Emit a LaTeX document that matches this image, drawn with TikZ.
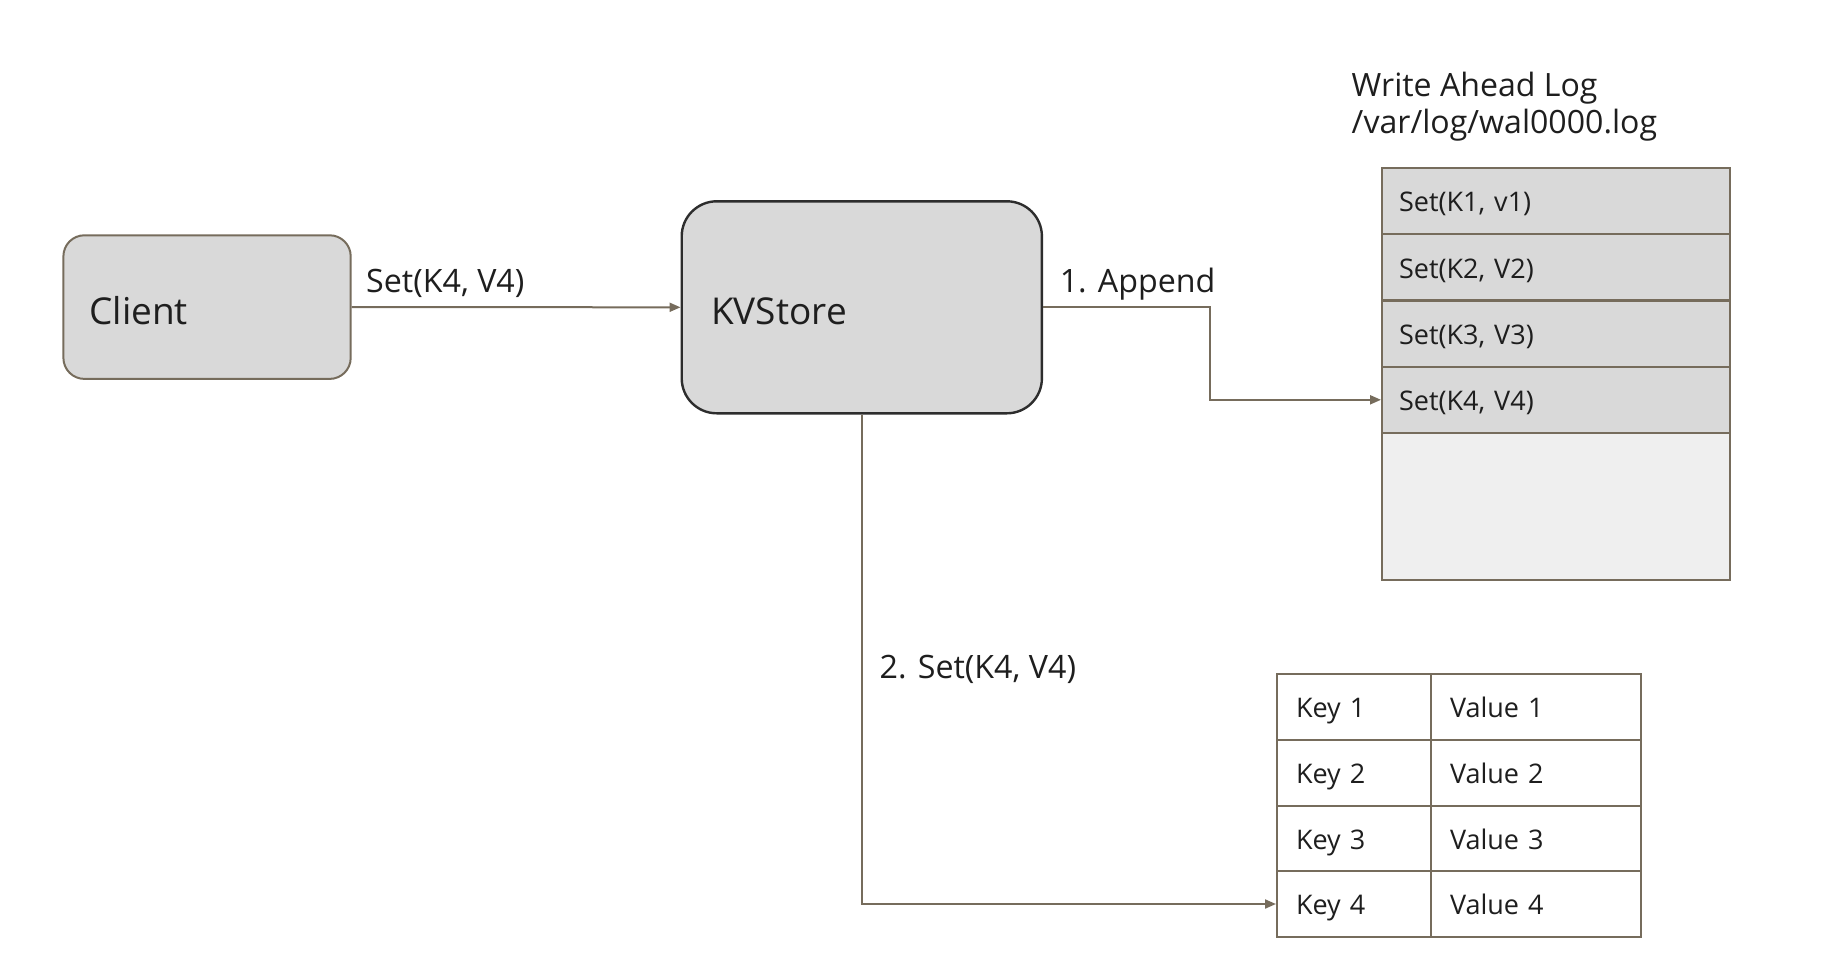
\documentclass[tikz,border=0pt]{standalone}
\usepackage{fontspec}
\setmainfont{Open Sans}
\usetikzlibrary{arrows.meta}
\definecolor{edgecol}{RGB}{118,108,92}
\definecolor{boxfill}{RGB}{217,217,217}
\definecolor{emptyfill}{RGB}{239,239,239}
\definecolor{txt}{RGB}{30,30,30}
\definecolor{darkedge}{RGB}{45,45,45}
\begin{document}
\begin{tikzpicture}[x=1pt,y=-1pt,
  bigfont/.style={font=\fontsize{37}{44}\selectfont},
  lblfont/.style={font=\fontsize{32.2}{39}\selectfont},
  smallfont/.style={font=\fontsize{27}{32}\selectfont},
  mainbox/.style={draw, fill=boxfill, anchor=north west, align=left, text=txt, bigfont, inner ysep=0pt, text height=37pt, text depth=1.8pt},
  walrow/.style={draw=edgecol, line width=2.2pt, fill=boxfill, anchor=north west, align=left, text=txt, smallfont, inner xsep=17pt, inner ysep=0pt, text width=313.5pt, minimum height=66.2pt, text height=28pt, text depth=6.75pt},
  cell/.style={draw=edgecol, line width=2pt, fill=white, anchor=north west, align=left, text=txt, smallfont, inner xsep=19pt, inner ysep=0pt, minimum height=65.6pt, text height=28pt, text depth=6.75pt},
  keycell/.style={cell, text width=116pt},
  valcell/.style={cell, text width=172pt},
  lbl/.style={anchor=base west, inner sep=0pt, text=txt, lblfont},
  conn/.style={draw=edgecol, line width=2pt, -{Triangle[length=11pt,width=9pt]}}
]
\useasboundingbox (0,0) rectangle (1846,974);

% main boxes
\node[mainbox, draw=edgecol, line width=2pt, rounded corners=21pt, inner xsep=26pt, text width=235.3pt, minimum width=287.3pt, minimum height=143.6pt] (client) at (62.4,234.3) {Client};
\node[mainbox, draw=darkedge, line width=2.4pt, rounded corners=35pt, inner xsep=29.5pt, text width=301.2pt, minimum width=360.2pt, minimum height=212pt] (kv) at (680.5,200.1) {KVStore};

% write ahead log
\node[lbl, font=\fontsize{32.1}{39}\selectfont] (waltitle) at (1351.5,96.4) {Write Ahead Log};
\node[lbl, font=\fontsize{32.1}{39}\selectfont] (walpath) at (1351.5,133.5) {/var/log/wal0000.log};
\node[walrow] (w1) at (1381,167) {Set(K1, v1)};
\node[walrow] (w2) at (1381,233.2) {Set(K2, V2)};
\node[walrow] (w3) at (1381,299.4) {Set(K3, V3)};
\node[walrow] (w4) at (1381,365.6) {Set(K4, V4)};
\node[walrow, fill=emptyfill, minimum height=147pt] (wempty) at (1381,431.8) {};

% key value table
\node[keycell] (k1) at (1276,673.4) {Key 1};
\node[valcell] (v1) at (1430,673.4) {Value 1};
\node[keycell] (k2) at (1276,739) {Key 2};
\node[valcell] (v2) at (1430,739) {Value 2};
\node[keycell] (k3) at (1276,804.6) {Key 3};
\node[valcell] (v3) at (1430,804.6) {Value 3};
\node[keycell] (k4) at (1276,870.2) {Key 4};
\node[valcell] (v4) at (1430,870.2) {Value 4};

% connectors
\draw[conn] (client.east) -- (kv.west);
\node[lbl] (setlbl) at (366,292) {Set(K4, V4)};

\coordinate (bend1) at (1210.3,0);
\draw[conn] (kv.east) -- (kv.east -| bend1) |- (w4.west);
\node[lbl] (applbl) at (1059.6,292) {1. Append};

\draw[conn] (kv.south) |- (k4.west);
\node[lbl] (setlbl2) at (879.5,678) {2. Set(K4, V4)};
\end{tikzpicture}
\end{document}
